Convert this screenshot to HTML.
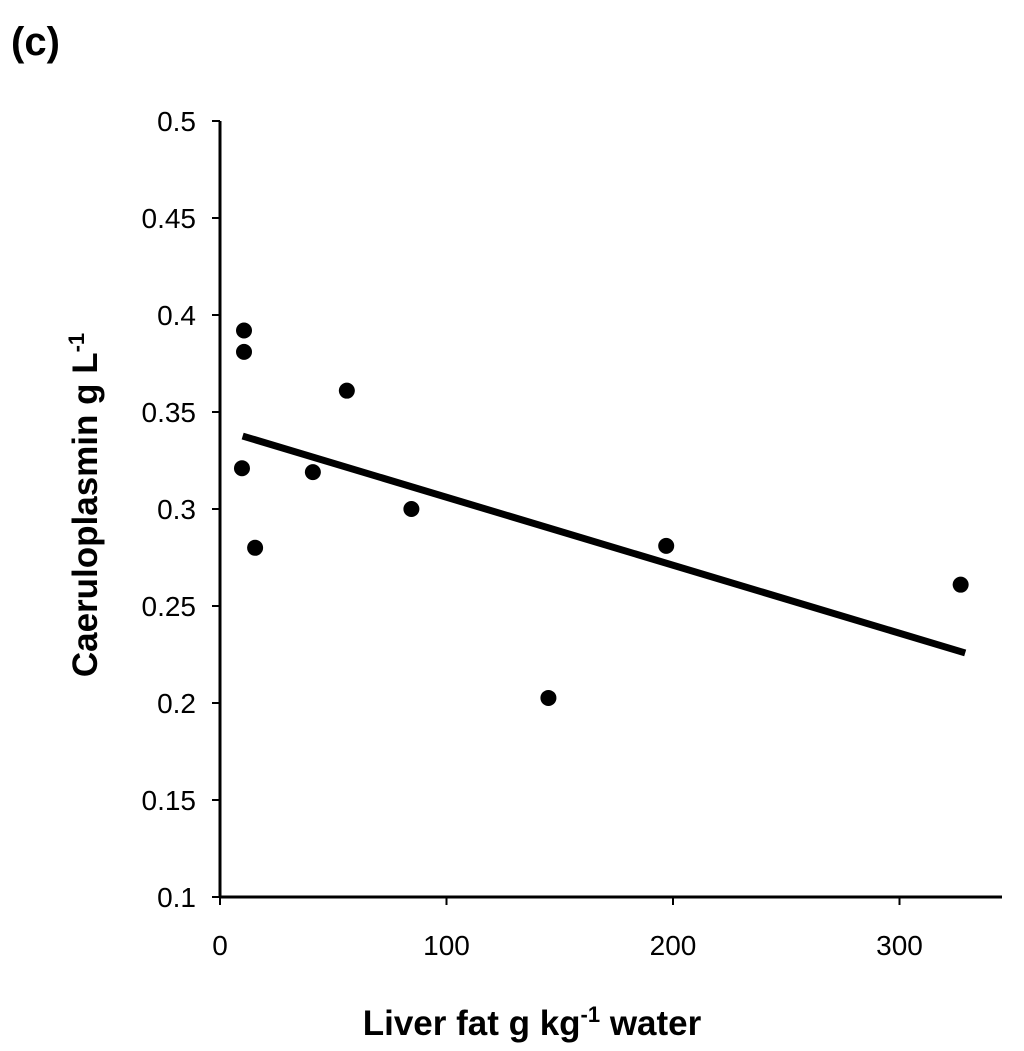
<!DOCTYPE html>
<html><head><meta charset="utf-8"><style>
html,body{margin:0;padding:0;background:#fff;}
svg{display:block;font-family:"Liberation Sans",Arial,sans-serif;}
</style></head><body>
<svg id="chart" width="1024" height="1051">
<text x="11" y="55" font-size="40" font-weight="bold">(c)</text>
<g id="axes"></g>
<g id="marks"></g>
<text x="532" y="1035" text-anchor="middle" font-size="35" font-weight="bold">Liver fat g kg<tspan dy="-13" font-size="22">-1</tspan><tspan dy="13"> water</tspan></text>
<text transform="translate(97,505) rotate(-90)" text-anchor="middle" font-size="35" font-weight="bold">Caeruloplasmin g L<tspan dy="-13" font-size="22">-1</tspan></text>
</svg>
<script>
const xTicks=[0,100,200,300];
const yTicks=[0.1,0.15,0.2,0.25,0.3,0.35,0.4,0.45,0.5];
const yTickLabels=["0.1","0.15","0.2","0.25","0.3","0.35","0.4","0.45","0.5"];
const liverFat=[10.6,10.6,9.7,15.5,41,56,84.5,145,197,327];
const caeruloplasmin=[0.392,0.381,0.321,0.280,0.319,0.361,0.300,0.2026,0.281,0.261];
const fitX=[10,329];
const fitY=[0.3376,0.2258];
const NS="http://www.w3.org/2000/svg";
const X0=220,XS=2.265,Y0=897,YS=1940;
function sx(v){return X0+v*XS;}
function sy(v){return Y0-(v-0.1)*YS;}
const axes=document.getElementById('axes'),marks=document.getElementById('marks');
function mk(tag,attrs,parent){const e=document.createElementNS(NS,tag);for(const k in attrs)e.setAttribute(k,attrs[k]);parent.appendChild(e);return e;}
let yl=mk('line',{x1:X0,y1:sy(0.5),x2:X0,y2:Y0+1,stroke:'#000','stroke-width':3},axes);


let xl=mk('line',{x1:X0-1,y1:Y0,x2:1002,y2:Y0,stroke:'#000','stroke-width':3},axes);


yTicks.forEach((t,i)=>{
 let l=mk('line',{x1:X0-8,y1:sy(t),x2:X0,y2:sy(t),stroke:'#000','stroke-width':2},axes);
 
 
 let tx=mk('text',{x:196,y:sy(t)+10,'text-anchor':'end','font-size':28,fill:'#000'},axes);
 tx.textContent=yTickLabels[i];
 
 
});
xTicks.forEach(t=>{
 let l=mk('line',{x1:sx(t),y1:Y0,x2:sx(t),y2:Y0+8,stroke:'#000','stroke-width':2},axes);
 
 
 let tx=mk('text',{x:sx(t),y:955,'text-anchor':'middle','font-size':28,fill:'#000'},axes);
 tx.textContent=String(t);
 
 
});
let fl=mk('line',{x1:sx(fitX[0]),y1:sy(fitY[0]),x2:sx(fitX[1]),y2:sy(fitY[1]),stroke:'#000','stroke-width':7},marks);


liverFat.forEach((v,i)=>{
 let c=mk('circle',{cx:sx(v),cy:sy(caeruloplasmin[i]),r:8,fill:'#000'},marks);
 
 
});
</script>
</body></html>
